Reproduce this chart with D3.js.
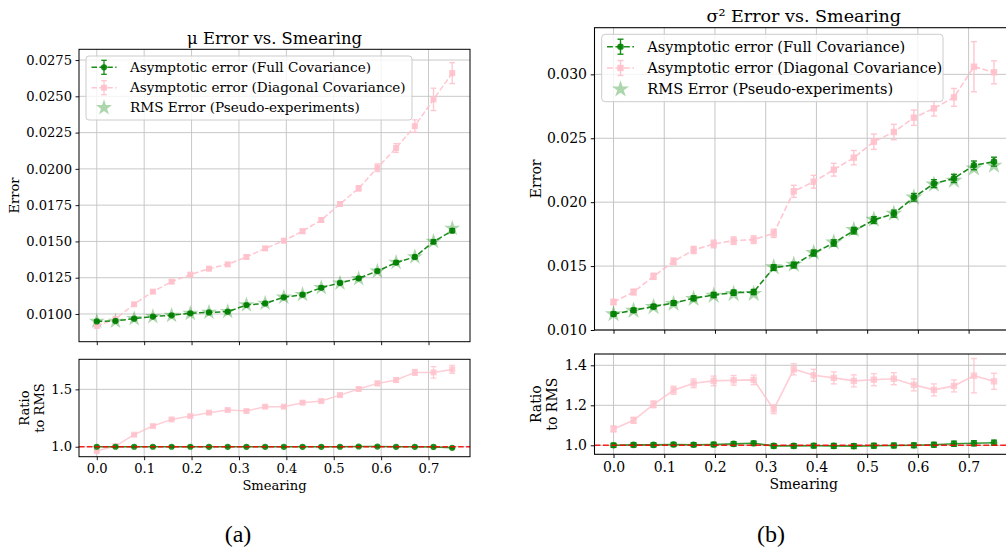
<!DOCTYPE html>
<html><head><meta charset="utf-8">
<script src="https://cdn.jsdelivr.net/npm/d3@7"></script>
<style>body{margin:0;background:#fff}svg{display:block}</style>
</head><body>
<svg id="c" width="1006" height="550"></svg>
<script>
// ---------- DATA ----------
const smearing = [0, 0.0395, 0.0789, 0.1184, 0.1579, 0.1974, 0.2368, 0.2763, 0.3158, 0.3553, 0.3947, 0.4342, 0.4737, 0.5132, 0.5526, 0.5921, 0.6316, 0.6711, 0.7105, 0.75];
const xTicks = [0.0, 0.1, 0.2, 0.3, 0.4, 0.5, 0.6, 0.7];
const legendLabels = ["Asymptotic error (Full Covariance)", "Asymptotic error (Diagonal Covariance)", "RMS Error (Pseudo-experiments)"];

// (a) mu
const muFull    = [0.00949,0.00952,0.00968,0.00982,0.00991,0.01005,0.01011,0.01016,0.01062,0.01073,0.01115,0.01133,0.01181,0.01214,0.01246,0.01296,0.01354,0.01393,0.01498,0.01574];
const muFullErr = [0.00007,0.00007,0.00007,0.00007,0.00008,0.00008,0.00008,0.00008,0.00009,0.00009,0.00009,0.0001,0.0001,0.0001,0.00011,0.00011,0.00012,0.00012,0.00013,0.00014];
const muDiag    = [0.00917,0.00966,0.01067,0.01154,0.01223,0.01271,0.01312,0.01342,0.01393,0.01452,0.01505,0.01570,0.01648,0.01758,0.01866,0.02008,0.02144,0.02295,0.02479,0.02660];
const muDiagErr = [0.00008,0.00008,0.00009,0.0001,0.0001,0.0001,0.00011,0.00011,0.00012,0.00012,0.00013,0.00014,0.00015,0.00016,0.00018,0.00026,0.0003,0.00043,0.00077,0.00072];
const muRMS     = [0.00950,0.00950,0.00968,0.00982,0.00990,0.01004,0.01012,0.01017,0.01063,0.01074,0.01116,0.01134,0.01182,0.01213,0.01244,0.01295,0.01356,0.01394,0.01500,0.01590];
const muRatioFull    = [1.0,1.0,1.0,1.0,1.0,1.0,0.999,0.999,0.999,0.999,0.999,0.999,0.999,1.0,1.002,1.001,0.999,0.999,0.998,0.99];
const muRatioFullErr = [0.006,0.006,0.006,0.006,0.006,0.006,0.006,0.006,0.006,0.006,0.006,0.006,0.006,0.006,0.006,0.006,0.006,0.006,0.007,0.007];
const muRatioDiag    = [0.962,1.006,1.105,1.18,1.238,1.267,1.297,1.32,1.311,1.349,1.349,1.384,1.398,1.45,1.503,1.552,1.581,1.648,1.648,1.674];
const muRatioDiagErr = [0.008,0.008,0.009,0.01,0.01,0.01,0.011,0.011,0.012,0.012,0.012,0.013,0.013,0.014,0.015,0.018,0.02,0.025,0.05,0.035];
const muTopTicks = [0.0100,0.0125,0.0150,0.0175,0.0200,0.0225,0.0250,0.0275];
const muBotTicks = [1.0, 1.5];

// (b) sigma^2
const sigFull    = [0.01125,0.01154,0.01183,0.01211,0.01248,0.01274,0.01292,0.01297,0.01488,0.01508,0.01602,0.01681,0.01777,0.01860,0.01910,0.02038,0.02145,0.02186,0.02288,0.02317];
const sigFullErr = [0.00015,0.00016,0.00017,0.00018,0.00019,0.0002,0.0002,0.0002,0.00022,0.00023,0.00024,0.00025,0.00026,0.00027,0.00028,0.0003,0.00031,0.00032,0.00034,0.00035];
const sigDiag    = [0.01219,0.01297,0.01420,0.01537,0.01626,0.01673,0.01699,0.01707,0.01756,0.02085,0.02160,0.02254,0.02348,0.02473,0.02549,0.02661,0.02734,0.02820,0.03060,0.03016];
const sigDiagErr = [0.0002,0.00022,0.00024,0.00026,0.00028,0.0003,0.0003,0.0003,0.00032,0.00047,0.0005,0.0005,0.00056,0.0006,0.0006,0.0006,0.0006,0.0007,0.00196,0.0009];
const sigRMS     = [0.01125,0.01152,0.01181,0.01206,0.01244,0.01269,0.01283,0.01284,0.01492,0.01513,0.01605,0.01686,0.01784,0.01864,0.01912,0.02038,0.02139,0.02169,0.02265,0.02287];
const sigRatioFull    = [1.0,1.002,1.002,1.004,1.003,1.004,1.007,1.01,0.997,0.997,0.998,0.997,0.996,0.998,0.999,1.0,1.003,1.008,1.01,1.013];
const sigRatioFullErr = [0.01,0.01,0.01,0.01,0.01,0.011,0.011,0.011,0.011,0.011,0.011,0.012,0.012,0.012,0.012,0.012,0.012,0.013,0.013,0.013];
const sigRatioDiag    = [1.082,1.125,1.205,1.275,1.31,1.322,1.325,1.327,1.18,1.38,1.35,1.337,1.322,1.328,1.333,1.302,1.277,1.297,1.348,1.32];
const sigRatioDiagErr = [0.015,0.015,0.017,0.02,0.022,0.024,0.024,0.024,0.022,0.028,0.03,0.03,0.03,0.03,0.03,0.03,0.03,0.03,0.086,0.04];
const sigTopTicks = [0.010,0.015,0.020,0.025,0.030];
const sigBotTicks = [1.0, 1.2, 1.4];

// ---------- DRAW ----------
const svg = d3.select("#c");
const FONT = "DejaVu Serif";
const GREEN = "green", PINK = "pink";

function errorbars(g, xs, ys, es, xS, yS, color, cap, width, op) {
  const d = xs.map((v,i)=>({x:v,y:ys[i],e:es[i]}));
  const eg = g.append("g").attr("stroke", color).attr("stroke-width", width).attr("opacity", op);
  eg.selectAll("line.v").data(d).join("line").attr("class","v")
    .attr("x1", p=>xS(p.x)).attr("x2", p=>xS(p.x)).attr("y1", p=>yS(p.y-p.e)).attr("y2", p=>yS(p.y+p.e));
  eg.selectAll("line.t").data(d).join("line").attr("class","t")
    .attr("x1", p=>xS(p.x)-cap).attr("x2", p=>xS(p.x)+cap).attr("y1", p=>yS(p.y+p.e)).attr("y2", p=>yS(p.y+p.e));
  eg.selectAll("line.b").data(d).join("line").attr("class","b")
    .attr("x1", p=>xS(p.x)-cap).attr("x2", p=>xS(p.x)+cap).attr("y1", p=>yS(p.y-p.e)).attr("y2", p=>yS(p.y-p.e));
}

function series(g, xs, ys, xS, yS, color, dash, width, op) {
  const line = d3.line().x((d,i)=>xS(xs[i])).y(d=>yS(d));
  g.append("path").attr("d", line(ys)).attr("fill","none").attr("stroke",color)
    .attr("stroke-width",width).attr("stroke-dasharray",dash).attr("opacity",op);
}

function markers(g, xs, ys, xS, yS, type, size, color, op) {
  g.append("g").selectAll("path").data(ys).join("path")
    .attr("transform",(d,i)=>`translate(${xS(xs[i])},${yS(d)})`)
    .attr("d", d3.symbol().type(type).size(size)).attr("fill",color).attr("opacity",op);
}

function drawFigure(c) {
  const s = c.s;
  const fs = 13.1*s;
  const lfs = 13.6*s;
  const g = svg.append("g");
  const x = d3.scaleLinear().domain([-0.0375, 0.7875]).range([c.x0, c.x1]);
  const yT = d3.scaleLinear().domain(c.topDomain).range([c.ty1, c.ty0]);
  const yB = d3.scaleLinear().domain(c.botDomain).range([c.by1, c.by0]);

  // grids
  [[yT,c.ty0,c.ty1,c.topTicks],[yB,c.by0,c.by1,c.botTicks]].forEach(([yS,y0,y1,tk])=>{
    const gg = g.append("g").attr("stroke","#b0b0b0").attr("stroke-width",0.9*s).attr("opacity",0.75);
    gg.selectAll("line.gx").data(xTicks).join("line").attr("class","gx")
      .attr("x1",d=>x(d)).attr("x2",d=>x(d)).attr("y1",y0).attr("y2",y1);
    gg.selectAll("line.gy").data(tk).join("line").attr("class","gy")
      .attr("x1",c.x0).attr("x2",c.x1).attr("y1",d=>yS(d)).attr("y2",d=>yS(d));
  });

  // axes
  const styleAxis = a => { a.select(".domain").remove(); a.selectAll("text").attr("font-family",FONT).attr("font-size",fs).attr("fill","#000"); a.selectAll("line").attr("stroke","#000").attr("stroke-width",0.9*s); };
  g.append("g").attr("transform",`translate(${c.x0},0)`).call(d3.axisLeft(yT).tickValues(c.topTicks).tickFormat(d3.format(c.topFmt)).tickSize(3.5*s).tickPadding(3.5*s)).call(styleAxis);
  g.append("g").attr("transform",`translate(${c.x0},0)`).call(d3.axisLeft(yB).tickValues(c.botTicks).tickFormat(d3.format(".1f")).tickSize(3.5*s).tickPadding(3.5*s)).call(styleAxis);
  g.append("g").attr("transform",`translate(0,${c.ty1})`).call(d3.axisBottom(x).tickValues(xTicks).tickFormat("").tickSize(3.5*s)).call(styleAxis);
  g.append("g").attr("transform",`translate(0,${c.by1})`).call(d3.axisBottom(x).tickValues(xTicks).tickFormat(d3.format(".1f")).tickSize(3.5*s).tickPadding(3.5*s)).call(styleAxis);

  // top panel data
  const top = g.append("g");
  markers(top, smearing, c.rms, x, yT, d3.symbolStar, 80*s*s, GREEN, 0.32);
  series(top, smearing, c.diag, x, yT, PINK, `${5.5*s},${2.4*s}`, 1.5*s, 0.9);
  errorbars(top, smearing, c.diag, c.diagErr, x, yT, PINK, 2.8*s, 1.3*s, 0.9);
  markers(top, smearing, c.diag, x, yT, d3.symbolSquare, 36*s*s, PINK, 0.9);
  series(top, smearing, c.full, x, yT, GREEN, `${5.5*s},${2.4*s}`, 1.5*s, 0.9);
  errorbars(top, smearing, c.full, c.fullErr, x, yT, GREEN, 2.8*s, 1.3*s, 0.9);
  markers(top, smearing, c.full, x, yT, d3.symbolCircle, 30*s*s, GREEN, 0.9);

  // bottom panel data
  const bot = g.append("g");
  series(bot, smearing, c.rDiag, x, yB, PINK, null, 1.5*s, 0.8);
  errorbars(bot, smearing, c.rDiag, c.rDiagErr, x, yB, PINK, 2.8*s, 1.3*s, 0.8);
  markers(bot, smearing, c.rDiag, x, yB, d3.symbolSquare, 36*s*s, PINK, 0.8);
  series(bot, smearing, c.rFull, x, yB, GREEN, null, 1.5*s, 0.8);
  errorbars(bot, smearing, c.rFull, c.rFullErr, x, yB, GREEN, 2.8*s, 1.3*s, 0.8);
  markers(bot, smearing, c.rFull, x, yB, d3.symbolCircle, 30*s*s, GREEN, 0.85);
  bot.append("line").attr("x1",c.x0).attr("x2",c.x1).attr("y1",yB(1)).attr("y2",yB(1))
    .attr("stroke","red").attr("stroke-width",1.4*s).attr("stroke-dasharray",`${5.5*s},${2.4*s}`).attr("opacity",0.85);

  // frames
  [[c.ty0,c.ty1],[c.by0,c.by1]].forEach(([y0,y1])=>{
    g.append("rect").attr("x",c.x0).attr("y",y0).attr("width",c.x1-c.x0).attr("height",y1-y0)
      .attr("fill","none").attr("stroke","#000").attr("stroke-width",1*s);
  });

  // legend
  const L = c.leg;
  const lg = g.append("g");
  lg.append("rect").attr("x",L.x0).attr("y",L.y0).attr("width",L.x1-L.x0).attr("height",L.y1-L.y0)
    .attr("rx",3*s).attr("fill","#fff").attr("fill-opacity",0.8).attr("stroke","#cccccc").attr("stroke-width",1);
  const hx = d3.scaleLinear().domain([0,1]).range([L.h0, L.h1]);
  L.rows.forEach((ry,i)=>{
    const ys = d3.scaleLinear().domain([0,1]).range([ry, ry-1]);
    if (i<2) {
      const col = i===0?GREEN:PINK;
      series(lg, [0,1], [0,0], hx, ys, col, `${5.5*s},${2.4*s}`, 1.5*s, 0.9);
      errorbars(lg, [0.5], [0], [7*s], hx, ys, col, 2.8*s, 1.3*s, 0.9);
      markers(lg, [0.5], [0], hx, ys, i===0?d3.symbolCircle:d3.symbolSquare, (i===0?30:36)*s*s, col, 0.9);
    } else {
      markers(lg, [0.5], [0], hx, ys, d3.symbolStar, 80*s*s, GREEN, 0.32);
    }
    lg.append("text").attr("x",L.tx).attr("y",ry).attr("dy","0.35em").attr("font-family",FONT)
      .attr("font-size",lfs).text(legendLabels[i]);
  });

  // labels
  g.append("text").attr("x",(c.x0+c.x1)/2).attr("y",c.titleY).attr("text-anchor","middle")
    .attr("font-family",FONT).attr("font-size",16.4*s).text(c.title);
  g.append("text").attr("transform",`translate(${c.errX},${(c.ty0+c.ty1)/2}) rotate(-90)`).attr("text-anchor","middle")
    .attr("dy","0.35em").attr("font-family",FONT).attr("font-size",fs).text("Error");
  const rl = g.append("text").attr("transform",`translate(${c.ratX},${(c.by0+c.by1)/2}) rotate(-90)`)
    .attr("text-anchor","middle").attr("font-family",FONT).attr("font-size",fs);
  rl.append("tspan").attr("x",0).attr("dy","-0.25em").text("Ratio");
  rl.append("tspan").attr("x",0).attr("dy","1.15em").text("to RMS");
  g.append("text").attr("x",(c.x0+c.x1)/2).attr("y",c.smY).attr("text-anchor","middle")
    .attr("font-family",FONT).attr("font-size",fs).text("Smearing");
  g.append("text").attr("x",c.capX).attr("y",542).attr("text-anchor","middle")
    .attr("font-family","Liberation Serif").attr("font-size",24).text(c.cap);
}

drawFigure({
  s:1, x0:79, x1:470, ty0:49.3, ty1:341.7, by0:359.3, by1:456.7,
  topDomain:[0.00809, 0.02824], botDomain:[0.913, 1.762],
  topTicks:muTopTicks, botTicks:muBotTicks, topFmt:".4f",
  full:muFull, fullErr:muFullErr, diag:muDiag, diagErr:muDiagErr, rms:muRMS,
  rFull:muRatioFull, rFullErr:muRatioFullErr, rDiag:muRatioDiag, rDiagErr:muRatioDiagErr,
  leg:{x0:86, x1:412, y0:56, y1:120, rows:[67.3,87.7,107.7], h0:91.5, h1:116.5, tx:130},
  title:"μ Error vs. Smearing", titleY:44, errX:14, ratX:32, smY:490, capX:238, cap:"(a)"
});
drawFigure({
  s:1.07, x0:594.5, x1:1013, ty0:27.7, ty1:330, by0:354, by1:454.3,
  topDomain:[0.0100, 0.03365], botDomain:[0.955, 1.4565],
  topTicks:sigTopTicks, botTicks:sigBotTicks, topFmt:".3f",
  full:sigFull, fullErr:sigFullErr, diag:sigDiag, diagErr:sigDiagErr, rms:sigRMS,
  rFull:sigRatioFull, rFullErr:sigRatioFullErr, rDiag:sigRatioDiag, rDiagErr:sigRatioDiagErr,
  leg:{x0:601.7, x1:943, y0:34.3, y1:101.7, rows:[46.7,68,89.3], h0:607, h1:634, tx:647.3},
  title:"σ² Error vs. Smearing", titleY:22, errX:536, ratX:544, smY:489, capX:771, cap:"(b)"
});
</script>
</body></html>
